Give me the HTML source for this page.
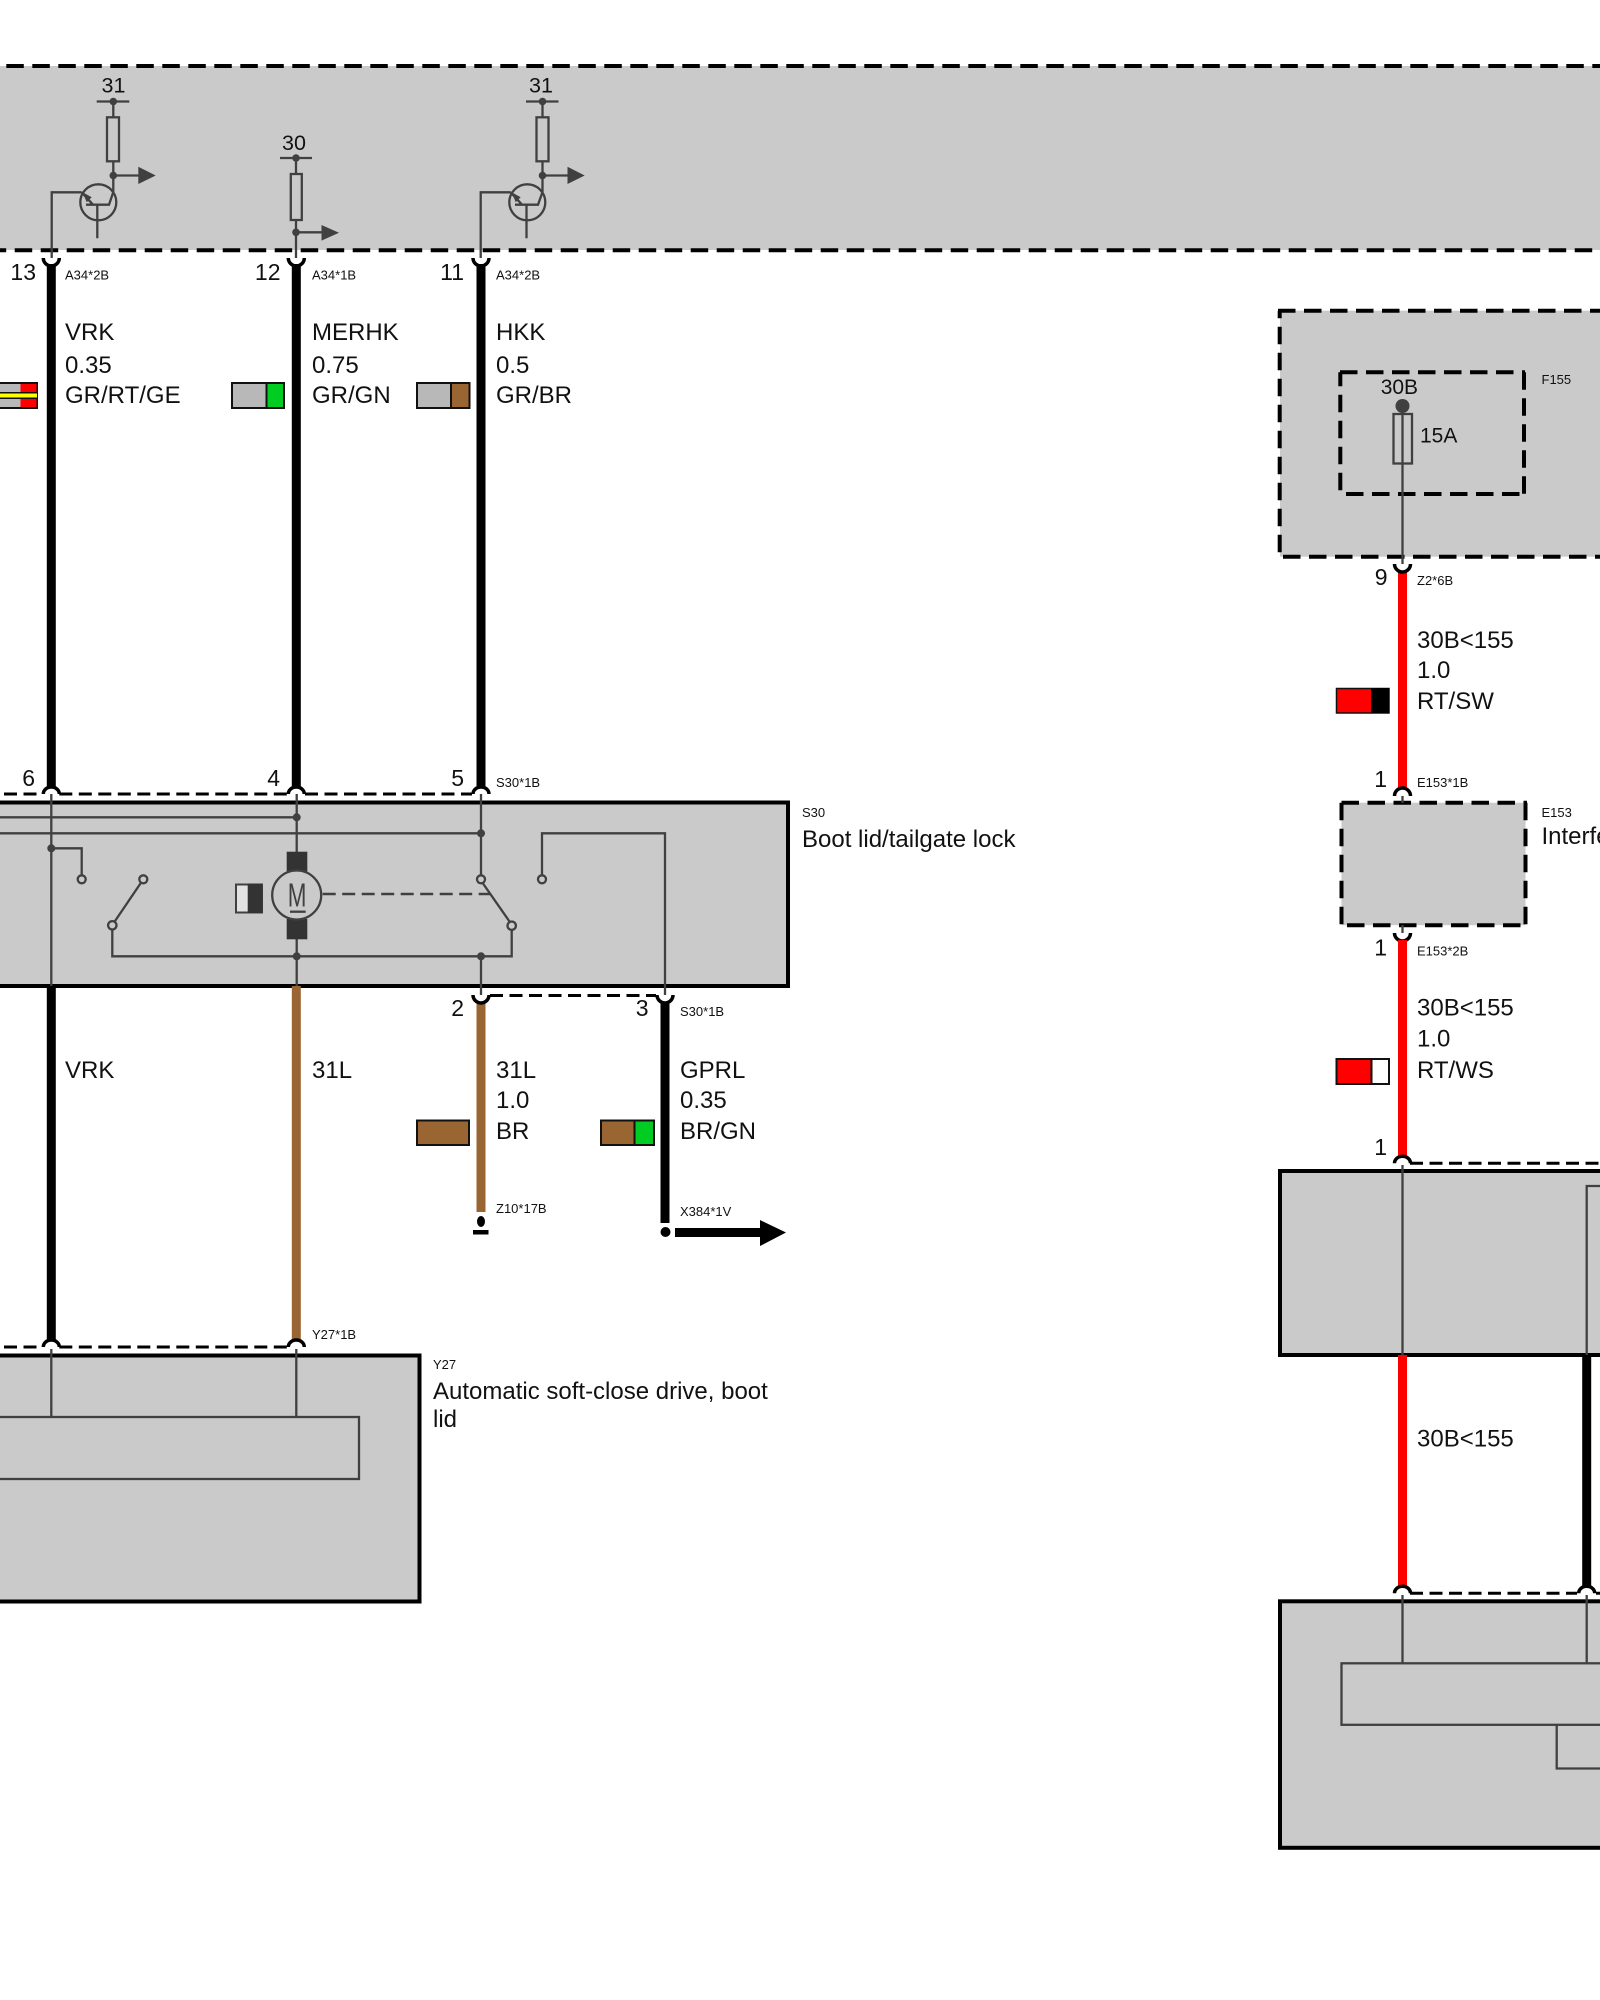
<!DOCTYPE html>
<html><head><meta charset="utf-8"><style>
html,body{margin:0;padding:0;background:#fff;width:1600px;height:2000px;overflow:hidden}
svg{display:block}
text{font-family:"Liberation Sans",sans-serif;fill:#111;font-size:24px}
.s{font-size:13px}
.n{font-size:23px}
.v{font-size:21.500px}
.f{font-size:21px}
.l{stroke:#404040;stroke-width:2.300;fill:none}
.d{fill:#404040;stroke:none}
.a{fill:none;stroke:#000;stroke-width:3.500}
.w{stroke-width:9;fill:none}
.c{stroke:#111;stroke-width:2}
.e{text-anchor:end}
.m{text-anchor:middle}
.t{stroke:#000;stroke-width:3;stroke-dasharray:13 6.500;fill:none}
.b{stroke:#000;stroke-width:4;stroke-dasharray:17.500 8.500;fill:none}
</style></head><body>
<svg width="1600" height="2000" viewBox="0 0 1600 2000" xmlns="http://www.w3.org/2000/svg">
<rect width="1600" height="2000" fill="#fff"/>

<!-- top band -->
<rect x="-30" y="66" width="1680" height="184" fill="#cacaca"/>
<path class="b" d="M-19.700 66H1620"/>
<path class="b" d="M-11.300 250.300H1620"/>

<!-- transistor 1 -->
<g>
<path class="l" d="M51.700 258V192.300H81.700M96.700 101.500H129.300M113.300 101.500V117M113.300 161.300V192L109 204.700H86M97.300 204.700V238.300M113.300 175.500H140M81.700 192.300L93 204.700"/>
<rect class="l" x="107" y="117.300" width="12" height="44"/>
<circle class="l" cx="98.300" cy="202.300" r="18"/>
<circle class="d" cx="113.300" cy="101.500" r="3.800"/><circle class="d" cx="113.300" cy="175.500" r="3.800"/>
<path class="d" d="M138.300 166.700L155.700 175.500L138.300 184Z"/><path class="d" d="M82.700 192.300L91.700 197.300L86.700 202.300Z"/>
<text class="m v" x="113.500" y="92.500">31</text>
</g>
<!-- transistor 2 -->
<g>
<path class="l" d="M480.700 258V192.300H510.700M526 101.500H558.500M542.500 101.500V117M542.500 161.300V192L538 204.700H515M526.500 204.700V238.300M542.500 175.500H569M510.700 192.300L522 204.700"/>
<rect class="l" x="536.500" y="117.300" width="12" height="44"/>
<circle class="l" cx="527.300" cy="202.300" r="18"/>
<circle class="d" cx="542.500" cy="101.500" r="3.800"/><circle class="d" cx="542.500" cy="175.500" r="3.800"/>
<path class="d" d="M567.500 166.700L584.700 175.500L567.500 184Z"/><path class="d" d="M511.700 192.300L520.700 197.300L515.700 202.300Z"/>
<text class="m v" x="541" y="92.500">31</text>
</g>
<!-- resistor 30 -->
<path class="l" d="M280 158H312M296 158V174M296 220V258M296 232.300H322"/>
<rect class="l" x="290.800" y="174" width="11" height="46"/>
<circle class="d" cx="296" cy="158" r="3.800"/><circle class="d" cx="296" cy="232.300" r="3.800"/>
<path class="d" d="M321.500 225L339 232.800L321.500 240.600Z"/>
<text class="m v" x="294" y="150">30</text>

<!-- upper wires -->
<path class="w" stroke="#000" d="M51.300 264V788M296.300 264V788M481 264V788"/>
<path class="a" d="M43.300 258A8 8 0 0 0 59.300 258M288.300 258A8 8 0 0 0 304.300 258M473 258A8 8 0 0 0 489 258"/>
<text class="e n" x="36" y="280">13</text><text class="e n" x="280.500" y="280">12</text><text class="e n" x="464" y="280">11</text>
<text class="s" x="65" y="279.500">A34*2B</text><text class="s" x="312" y="279.500">A34*1B</text><text class="s" x="496" y="279.500">A34*2B</text>
<text x="65" y="340">VRK</text><text x="65" y="373">0.35</text><text x="65" y="403">GR/RT/GE</text>
<text x="312" y="340">MERHK</text><text x="312" y="373">0.75</text><text x="312" y="403">GR/GN</text>
<text x="496" y="340">HKK</text><text x="496" y="373">0.5</text><text x="496" y="403">GR/BR</text>

<!-- chips top -->
<rect class="c" x="-10" y="383" width="47" height="25" fill="#b8b8b8"/>
<rect x="20.500" y="384" width="16" height="23" fill="#f00"/>
<path d="M-10 395.500H37" stroke="#111" stroke-width="7"/><path d="M-10 395.500H37" stroke="#ff0" stroke-width="4"/>
<rect class="c" x="232" y="383" width="52" height="25" fill="#b8b8b8"/><rect class="c" x="266.500" y="383" width="17.500" height="25" fill="#00cc22"/>
<rect class="c" x="417" y="383" width="52.500" height="25" fill="#b8b8b8"/><rect class="c" x="451" y="383" width="18.500" height="25" fill="#996633"/>

<!-- S30 -->
<path class="t" d="M4 794H41M59.300 794H287M305 794H472"/>
<path class="a" d="M43.300 794A8 7 0 0 1 59.300 794M288.300 794A8 7 0 0 1 304.300 794M473 794A8 7 0 0 1 489 794"/>
<text class="e n" x="35" y="786">6</text><text class="e n" x="280" y="786">4</text><text class="e n" x="464" y="786">5</text>
<text class="s" x="496" y="787">S30*1B</text>
<rect x="-20" y="802.500" width="808" height="183.500" fill="#cacaca" stroke="#000" stroke-width="4"/>
<path class="l" d="M51.300 794V986M296.700 794V852M296.700 939V986M481 794V875M481 956.300V995M-10 817.300H296.700M-10 833.300H481M51.300 848.300H81.700V875M112.300 930V956.300H511.700V930M114.700 921.500L140.800 883M483 883.500L509.500 921.500M542 875V833.300H665V995"/>
<path d="M322.700 894H490" stroke="#404040" stroke-width="2.500" stroke-dasharray="13 6.500" fill="none"/>
<circle class="d" cx="296.700" cy="817.300" r="4"/><circle class="d" cx="481" cy="833.300" r="4"/><circle class="d" cx="51.300" cy="848.300" r="4"/>
<circle class="d" cx="296.700" cy="956.300" r="4"/><circle class="d" cx="481" cy="956.300" r="4"/>
<g fill="#cacaca" stroke="#404040" stroke-width="2.300">
<circle cx="81.700" cy="879.300" r="4"/><circle cx="143.300" cy="879.300" r="4"/><circle cx="112.300" cy="925.300" r="4.200"/>
<circle cx="481" cy="879.300" r="4"/><circle cx="511.700" cy="925.700" r="4.200"/><circle cx="542" cy="879.300" r="4"/>
</g>
<rect x="286.700" y="851.700" width="20.600" height="21.300" fill="#333"/><rect x="286.700" y="919" width="20.600" height="20.300" fill="#333"/>
<circle cx="296.700" cy="895" r="24.500" fill="#cacaca" stroke="#404040" stroke-width="2.300"/>
<text x="0" y="0" transform="translate(287.800 906.700) scale(.68 1)" style="font-size:33px;fill:#404040">M</text>
<path d="M290 911.700H305.700" stroke="#404040" stroke-width="2.300"/>
<rect x="236" y="884.500" width="26" height="28" fill="#e2e2e2" stroke="#404040" stroke-width="2"/><rect x="247.700" y="883.500" width="14.800" height="29.500" fill="#333"/>
<text class="s" x="802" y="817">S30</text><text x="802" y="847">Boot lid/tailgate lock</text>

<!-- wires below S30 -->
<path class="w" stroke="#000" d="M51.300 986V1341M665 1002V1223"/>
<path class="w" stroke="#996633" d="M296.300 986V1341M481 1002V1212"/>
<path class="t" d="M490 995.500H656"/>
<path class="a" d="M473 995A8 8 0 0 0 489 995M657 995A8 8 0 0 0 673 995"/>
<text class="e n" x="464" y="1016">2</text><text class="e n" x="648.500" y="1016">3</text><text class="s" x="680" y="1016">S30*1B</text>
<text x="65" y="1078">VRK</text><text x="312" y="1078">31L</text>
<text x="496" y="1078">31L</text><text x="496" y="1108">1.0</text><text x="496" y="1139">BR</text>
<text x="680" y="1078">GPRL</text><text x="680" y="1108">0.35</text><text x="680" y="1139">BR/GN</text>
<rect class="c" x="417" y="1120.500" width="52" height="24.500" fill="#996633"/>
<rect class="c" x="601" y="1120.500" width="53" height="24.500" fill="#996633"/><rect class="c" x="634.500" y="1120.500" width="19.500" height="24.500" fill="#00cc22"/>
<ellipse cx="481" cy="1221.500" rx="4" ry="5.500" fill="#000"/><rect x="473" y="1230" width="15.500" height="4.500" fill="#000"/>
<text class="s" x="496" y="1213">Z10*17B</text><text class="s" x="680" y="1216">X384*1V</text>
<circle cx="665.500" cy="1232" r="5" fill="#000"/>
<path d="M675 1228H760V1220L786 1232.500L760 1246V1237H675Z" fill="#000"/>

<!-- Y27 -->
<path class="t" d="M4 1347H41M59.300 1347H287"/>
<path class="a" d="M43.300 1347A8 7 0 0 1 59.300 1347M288.300 1347A8 7 0 0 1 304.300 1347"/>
<text class="s" x="312" y="1339">Y27*1B</text>
<rect x="-20" y="1355.500" width="439.500" height="246" fill="#cacaca" stroke="#000" stroke-width="4"/>
<rect x="-20" y="1417" width="379" height="62" fill="#cacaca" stroke="#404040" stroke-width="2.300"/>
<path class="l" d="M51.300 1349V1417M296.300 1349V1417"/>
<text class="s" x="433" y="1369">Y27</text>
<text x="433" y="1399">Automatic soft-close drive, boot</text><text x="433" y="1427">lid</text>

<!-- F155 -->
<rect x="1280" y="310.700" width="360" height="246" fill="#cacaca"/>
<path class="b" d="M1278 310.700H1620"/>
<path class="b" d="M1279.700 310.700V557" stroke-dashoffset="10"/>
<path class="b" d="M1283 556.700H1620"/>
<path class="b" d="M1340 372.300H1525"/>
<path class="b" d="M1340.300 372.300V494" stroke-dashoffset="3.500"/>
<path class="b" d="M1524 372.300V494"/>
<path class="b" d="M1346 494H1524"/>
<path class="l" d="M1402.500 406V564"/>
<rect x="1393.500" y="414" width="18.500" height="49.500" fill="none" stroke="#404040" stroke-width="2.300"/>
<circle class="d" cx="1402.500" cy="406" r="7"/>
<text class="f" x="1380.700" y="394">30B</text><text class="f" x="1420" y="442.500">15A</text>
<text class="s" x="1541.500" y="384">F155</text>
<path class="w" stroke="#f00" d="M1402.500 571V788"/>
<path class="a" d="M1394.500 564A8 8 0 0 0 1410.500 564"/>
<text class="e n" x="1387.500" y="585">9</text><text class="s" x="1417" y="585">Z2*6B</text>
<text x="1417" y="648">30B&lt;155</text><text x="1417" y="678">1.0</text><text x="1417" y="709">RT/SW</text>
<rect x="1336.500" y="688.500" width="52.500" height="24.500" fill="#f00" stroke="#111" stroke-width="1.500"/><rect x="1371" y="688" width="18.500" height="25" fill="#000"/>
<text class="e n" x="1387" y="787">1</text><text class="s" x="1417" y="787">E153*1B</text>

<!-- E153 -->
<rect x="1341.500" y="802.700" width="184" height="122.500" fill="#cacaca"/>
<path class="b" d="M1341.500 802.700H1527"/>
<path class="b" d="M1341.500 802.700V926"/>
<path class="b" d="M1525.500 802.700V926"/>
<path class="b" d="M1347 925.300H1525"/>
<path class="a" d="M1394.500 796A8 8 0 0 1 1410.500 796M1394.500 933A8 8 0 0 0 1410.500 933"/>
<path class="l" d="M1402.500 796V803M1402.500 925V933"/>
<text class="s" x="1541.500" y="817">E153</text><text x="1541.500" y="844">Interference suppressor</text>
<path class="w" stroke="#f00" d="M1402.500 940V1158"/>
<text class="e n" x="1387" y="955.500">1</text><text class="s" x="1417" y="955.500">E153*2B</text>
<text x="1417" y="1015.500">30B&lt;155</text><text x="1417" y="1046.500">1.0</text><text x="1417" y="1078">RT/WS</text>
<rect class="c" x="1336.500" y="1059" width="52.500" height="25" fill="#fff"/><rect class="c" x="1336.500" y="1059" width="35" height="25" fill="#f00"/>
<text class="e n" x="1387" y="1155">1</text>

<!-- lower right boxes -->
<path class="t" d="M1410 1163.300H1610"/>
<path class="a" d="M1394.500 1163.300A8 7 0 0 1 1410.500 1163.300"/>
<rect x="1280" y="1171" width="360" height="184" fill="#cacaca" stroke="#000" stroke-width="4"/>
<path class="l" d="M1402.500 1165V1355M1586.700 1355V1186H1620"/>
<path class="w" stroke="#f00" d="M1402.500 1355V1587"/>
<path class="w" stroke="#000" d="M1586.700 1355V1587"/>
<text x="1417" y="1446.500">30B&lt;155</text>
<path class="t" d="M1410 1593.300H1577M1596 1593.300H1610"/>
<path class="a" d="M1394.500 1593.300A8 7 0 0 1 1410.500 1593.300M1578.700 1593.300A8 7 0 0 1 1594.700 1593.300"/>
<rect x="1280" y="1601.300" width="360" height="246.500" fill="#cacaca" stroke="#000" stroke-width="4"/>
<rect x="1341.500" y="1663.300" width="300" height="61.500" fill="#cacaca" stroke="#404040" stroke-width="2.300"/>
<path class="l" d="M1402.500 1595V1663.300M1586.700 1595V1663.300M1556.700 1724.800V1768.500H1620"/>
</svg>
</body></html>
